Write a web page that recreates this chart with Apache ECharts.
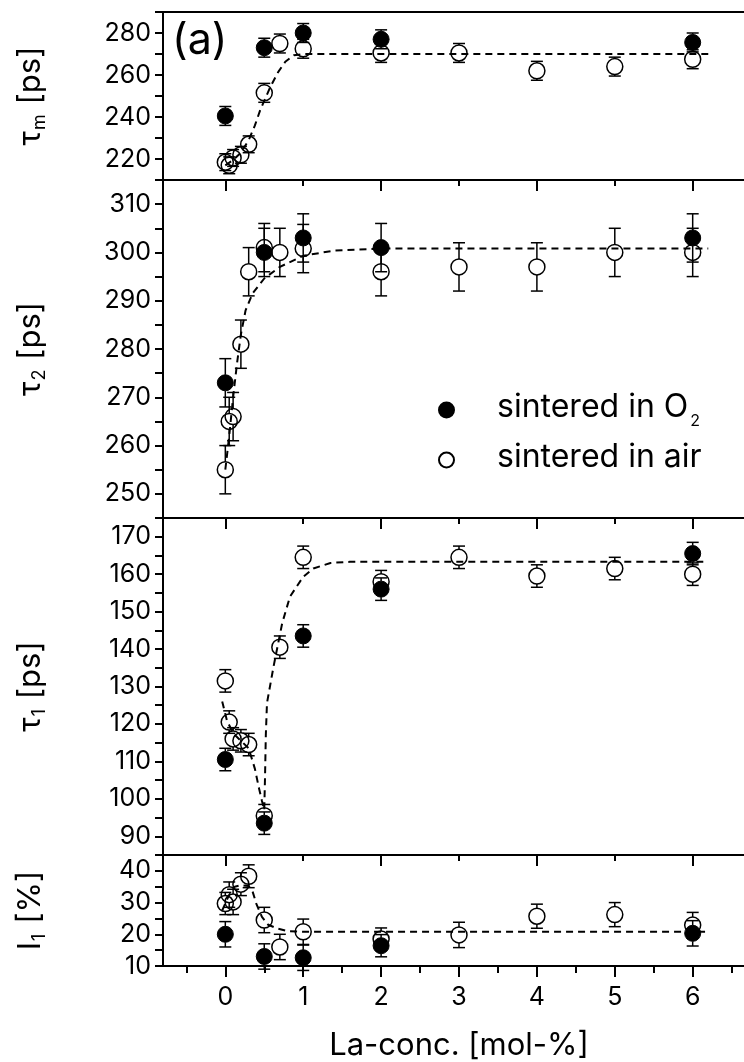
<!DOCTYPE html>
<html><head><meta charset="utf-8">
<script src="https://cdn.jsdelivr.net/npm/echarts@6/dist/echarts.min.js"></script>
<style>html,body{margin:0;padding:0;background:#fff}#c{width:744px;height:1062px}</style>
</head><body><div id="c"></div>
<script>
// ---- data ----
const xAir = [0, 0.05, 0.1, 0.2, 0.3, 0.5, 0.7, 1, 2, 3, 4, 5, 6];
const xO2 = [0, 0.5, 1, 2, 6];

const tauM_air = [218.5, 217, 220.5, 222, 227, 251.5, 275, 272.5, 270.5, 270.5, 262, 264, 267.5];
const tauM_air_err = [4, 4, 4, 4, 4, 4.5, 4.5, 4.5, 4.5, 4.5, 4.5, 4.5, 4.5];
const tauM_o2 = [240.5, 273, 280, 277, 275.5];
const tauM_o2_err = [4.5, 4.5, 4.5, 4.5, 4.5];
const fitM_x = [0, 0.1, 0.2, 0.3, 0.38, 0.45, 0.58, 0.68, 0.77, 0.88, 1.0, 6.2];
const fitM_y = [217, 219.5, 223, 229, 236, 243.5, 254.5, 261.5, 266.3, 269.4, 270, 270];

const tau2_air = [255, 265, 266, 281, 296, 301, 300, 300.8, 296, 297, 297, 300, 300];
const tau2_air_err = [5, 5, 5, 5, 5, 5, 5, 5, 5, 5, 5, 5, 5];
const tau2_o2 = [273, 300, 303, 301, 303];
const tau2_o2_err = [5, 5, 5, 5, 5];
const fit2_x = [0, 0.05, 0.1, 0.15, 0.2, 0.26, 0.35, 0.5, 0.7, 1.0, 1.4, 2, 6.2];
const fit2_y = [255, 262, 270, 277, 283, 288, 291.5, 294.6, 297, 299.3, 300.4, 300.8, 300.8];

const tau1_air = [131.5, 120.5, 116, 115.5, 114.5, 95.5, 140.5, 164.5, 158, 164.5, 159.5, 161.5, 160];
const tau1_air_err = [3, 3, 3, 3, 3, 3, 3, 3, 3, 3, 3, 3, 3];
const tau1_o2 = [110.5, 93.5, 143.5, 156, 165.5];
const tau1_o2_err = [3, 3, 3, 3, 3];
const fit1_x = [-0.04, 0.02, 0.1, 0.2, 0.3, 0.38, 0.43, 0.47, 0.5, 0.51, 0.52, 0.535, 0.62, 0.73, 0.83, 1.0, 1.13, 1.35, 1.6, 6.2];
const fit1_y = [126, 121, 117.5, 115.5, 113.5, 108, 103, 99.5, 97, 106, 117, 125.6, 135.4, 146.9, 154, 159.3, 161.5, 163, 163.3, 163.3];

const I1_air = [29.7, 32.5, 30.2, 35.8, 38.3, 24.5, 16, 20.8, 18.5, 19.8, 25.7, 26.2, 22.9];
const I1_air_err = [3.5, 4, 4, 3.6, 3.6, 4, 4, 4, 3.5, 4, 3.8, 3.8, 4];
const I1_o2 = [20, 13, 12.6, 16.4, 20.3];
const I1_o2_err = [4, 4, 4, 3.5, 4];
const fitI_x = [-0.04, 0.04, 0.12, 0.2, 0.3, 0.35, 0.4, 0.47, 0.55, 0.66, 0.8, 1.0, 6.2];
const fitI_y = [27.5, 32, 35, 35.5, 35.2, 33.5, 29.5, 25.5, 23, 21.9, 21, 20.8, 20.8];

const xTickMajor = [0, 1, 2, 3, 4, 5, 6];
const xTickEven = [0, 2, 4, 6];
const xTickOdd = [1, 3, 5];
const xTickHalf = [-0.5, 0.5, 1.5, 2.5, 3.5, 4.5, 5.5, 6.5];

// ---- layout / style ----
const FONT = 'Inter, "Liberation Sans", Arial, sans-serif';
const BLACK = '#000';
const chart = echarts.init(document.getElementById('c'), null, {renderer: 'canvas'});
const gridsDef = [
  {top: 12, height: 168},
  {top: 180, height: 338},
  {top: 518, height: 337},
  {top: 855, height: 111}
];
const panels = [
  {min: 210, max: 290, interval: 10, step: 20, sym: 'τ', sub: 'm', unit: ' [ps]',
   air: tauM_air, airErr: tauM_air_err, o2: tauM_o2, o2Err: tauM_o2_err, fx: fitM_x, fy: fitM_y},
  {min: 245, max: 315, interval: 5, step: 10, sym: 'τ', sub: '2', unit: ' [ps]',
   air: tau2_air, airErr: tau2_air_err, o2: tau2_o2, o2Err: tau2_o2_err, fx: fit2_x, fy: fit2_y},
  {min: 85, max: 175, interval: 5, step: 10, sym: 'τ', sub: '1', unit: ' [ps]',
   air: tau1_air, airErr: tau1_air_err, o2: tau1_o2, o2Err: tau1_o2_err, fx: fit1_x, fy: fit1_y},
  {min: 10, max: 45, interval: 5, step: 10, sym: 'I', sub: '1', unit: ' [%]',
   air: I1_air, airErr: I1_air_err, o2: I1_o2, o2Err: I1_o2_err, fx: fitI_x, fy: fitI_y}
];

const XMIN = -0.8, XMAX = 6.8;
const grid = [], xAxis = [], yAxis = [], series = [];

function errRender(params, api) {
  const x = api.value(0), y = api.value(1), e = api.value(2);
  const c = api.coord([x, y]);
  const top = api.coord([x, y + e])[1];
  const bot = api.coord([x, y - e])[1];
  const r = 8, hw = 6;
  const st = {stroke: BLACK, lineWidth: 1.5};
  const kids = [];
  if (top < c[1] - r) kids.push({type: 'line', shape: {x1: c[0], y1: c[1] - r, x2: c[0], y2: top}, style: st});
  if (bot > c[1] + r) kids.push({type: 'line', shape: {x1: c[0], y1: c[1] + r, x2: c[0], y2: bot}, style: st});
  kids.push({type: 'line', shape: {x1: c[0] - hw, y1: top, x2: c[0] + hw, y2: top}, style: st});
  kids.push({type: 'line', shape: {x1: c[0] - hw, y1: bot, x2: c[0] + hw, y2: bot}, style: st});
  return {type: 'group', children: kids};
}

panels.forEach((p, i) => {
  const last = i === panels.length - 1;
  grid.push({left: 163, width: 592, top: gridsDef[i].top, height: gridsDef[i].height, outerBoundsMode: 'none', containLabel: false});
  const mainX = xAxis.length;
  xAxis.push({
    type: 'value', gridIndex: i, min: XMIN, max: XMAX, position: 'bottom',
    axisLine: {show: true, onZero: false, lineStyle: {color: BLACK, width: 2}},
    axisTick: {show: true, inside: false, length: 11, lineStyle: {color: BLACK, width: 2},
               customValues: last ? xTickMajor : xTickEven},
    axisLabel: last ? {show: true, customValues: xTickMajor, fontSize: 25, fontFamily: FONT, color: BLACK, margin: 19}
                    : {show: false},
    splitLine: {show: false},
    name: last ? 'La-conc. [mol-%]' : '', nameLocation: 'middle', nameGap: 64,
    nameTextStyle: {fontSize: 31, fontFamily: FONT, color: BLACK}
  });
  xAxis.push({
    type: 'value', gridIndex: i, min: XMIN, max: XMAX, position: 'bottom',
    axisLine: {show: false, onZero: false},
    axisTick: {show: true, inside: false, length: last ? 7 : 6, lineStyle: {color: BLACK, width: 2},
               customValues: last ? xTickHalf : xTickOdd},
    axisLabel: {show: false}, splitLine: {show: false}
  });
  if (i === 0) {
    xAxis.push({
      type: 'value', gridIndex: i, min: XMIN, max: XMAX, position: 'top',
      axisLine: {show: true, onZero: false, lineStyle: {color: BLACK, width: 2}},
      axisTick: {show: false}, axisLabel: {show: false}, splitLine: {show: false}
    });
  }
  yAxis.push({
    type: 'value', gridIndex: i, min: p.min, max: p.max, interval: p.interval,
    axisLine: {show: true, onZero: false, lineStyle: {color: BLACK, width: 2}},
    axisTick: {show: true, inside: false, length: 8, lineStyle: {color: BLACK, width: 2}},
    axisLabel: {fontSize: 25, fontFamily: FONT, color: BLACK, margin: 12,
                formatter: v => (Math.round(v) % p.step === 0 ? String(v) : '')},
    splitLine: {show: false},
    name: '{b|' + p.sym + '}{s|' + p.sub + '}{b|' + p.unit + '}',
    nameLocation: 'middle', nameRotate: 90, nameGap: 114,
    nameTextStyle: {rich: {
      b: {fontSize: 31, fontFamily: FONT, color: BLACK, lineHeight: 34, verticalAlign: 'top'},
      s: {fontSize: 18, fontFamily: FONT, color: BLACK, lineHeight: 18, verticalAlign: 'bottom', padding: [20, 1, 0, 1]}
    }}
  });

  series.push({
    type: 'line', name: 'fit' + i, xAxisIndex: mainX, yAxisIndex: i,
    data: p.fx.map((x, k) => [x, p.fy[k]]),
    symbol: 'none', smooth: false, silent: true, z: 1,
    lineStyle: {color: BLACK, width: 2, type: [7, 5]}
  });
  series.push({
    type: 'custom', name: 'errAir' + i, xAxisIndex: mainX, yAxisIndex: i,
    data: xAir.map((x, k) => [x, p.air[k], p.airErr[k]]),
    encode: {x: 0, y: 1}, renderItem: errRender, silent: true, z: 2
  });
  series.push({
    type: 'custom', name: 'errO2' + i, xAxisIndex: mainX, yAxisIndex: i,
    data: xO2.map((x, k) => [x, p.o2[k], p.o2Err[k]]),
    encode: {x: 0, y: 1}, renderItem: errRender, silent: true, z: 2
  });
  series.push({
    type: 'scatter', name: 'air', xAxisIndex: mainX, yAxisIndex: i,
    data: xAir.map((x, k) => [x, p.air[k]]),
    symbol: 'circle', symbolSize: 16, z: 3,
    itemStyle: {color: 'rgba(255,255,255,0)', borderColor: BLACK, borderWidth: 1.5, opacity: 1}
  });
  series.push({
    type: 'scatter', name: 'O2', xAxisIndex: mainX, yAxisIndex: i,
    data: xO2.map((x, k) => [x, p.o2[k]]),
    symbol: 'circle', symbolSize: 16, z: 4,
    itemStyle: {color: BLACK, borderColor: BLACK, borderWidth: 1, opacity: 1}
  });
});

const option = {
  animation: false,
  backgroundColor: '#fff',
  grid, xAxis, yAxis, series,
  legend: {
    orient: 'vertical', left: 433, top: 383, itemWidth: 15, itemHeight: 15, itemGap: 12,
    selectedMode: false,
    data: [{name: 'O2', icon: 'circle'}, {name: 'air', icon: 'circle'}],
    formatter: n => n === 'O2' ? '{g|}{t|sintered in O}{s|2}' : '{g|}{t|sintered in air}',
    textStyle: {rich: {
      g: {width: 38},
      t: {fontSize: 32, fontFamily: FONT, color: BLACK, lineHeight: 38, verticalAlign: 'top'},
      s: {fontSize: 16, fontFamily: FONT, color: BLACK, lineHeight: 16, verticalAlign: 'bottom', padding: [25, 0, 0, 2]}
    }}
  },
  graphic: [{
    type: 'text', left: 172, top: 20,
    style: {text: '(a)', fontSize: 43, fontFamily: FONT, fill: BLACK}
  }]
};
chart.setOption(option);
</script></body></html>
